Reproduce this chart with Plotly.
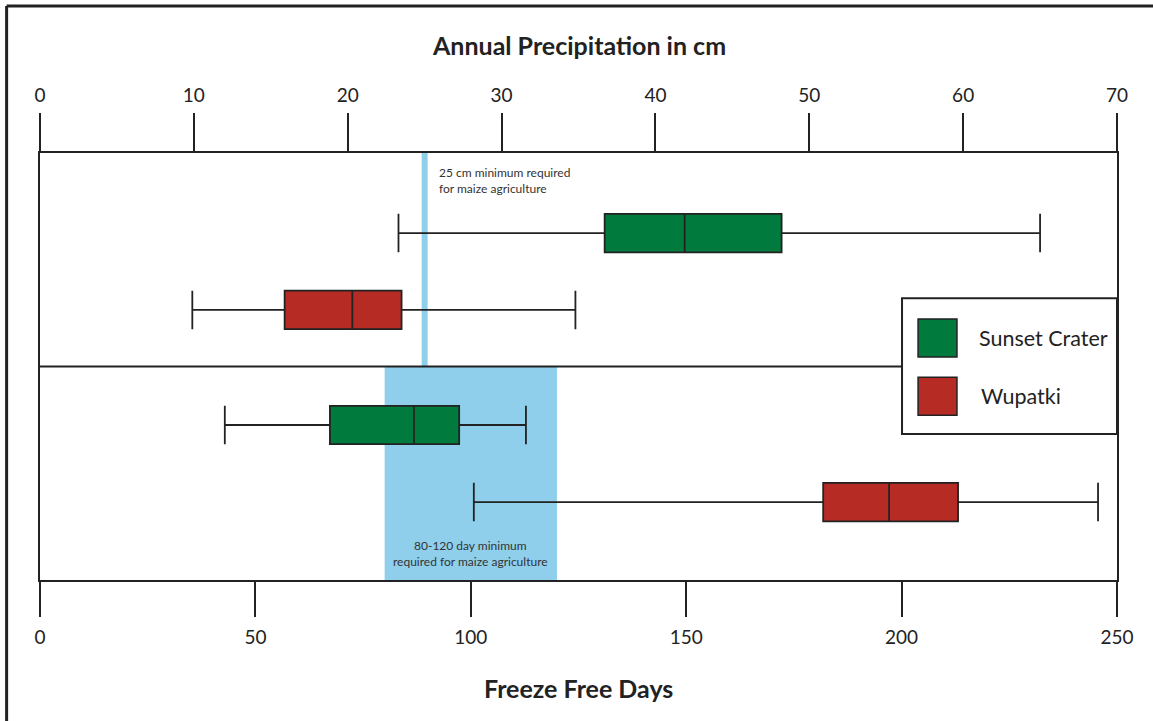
import plotly.graph_objects as go

# Five-number summaries, annual precipitation (cm)
sites = ["Sunset Crater", "Wupatki"]
precip_low = [23.3, 9.9]
precip_q1 = [36.7, 15.9]
precip_median = [41.9, 20.3]
precip_q3 = [48.2, 23.5]
precip_high = [65.0, 34.8]

# Five-number summaries, freeze free days
days_low = [42.9, 100.7]
days_q1 = [67.3, 181.8]
days_median = [86.8, 197.1]
days_q3 = [97.3, 213.1]
days_high = [112.8, 245.6]

# Maize agriculture thresholds
precip_min = 25
days_min_range = [80, 120]

precip_ticks = [0, 10, 20, 30, 40, 50, 60, 70]
days_ticks = [0, 50, 100, 150, 200, 250]

colors = {"Sunset Crater": "#007A3D", "Wupatki": "#B72B25"}
blue = "#8FCFEB"
ink = "#222222"
font = "Lato"

# row positions (precipitation panel on top, days panel below)
precip_rows = [1.625, 1.265]
days_rows = [0.726, 0.365]
box_w = 0.18

fig = go.Figure()

for i, s in enumerate(sites):
    fig.add_trace(go.Box(
        y=[precip_rows[i]], orientation="h",
        q1=[precip_q1[i]], median=[precip_median[i]], q3=[precip_q3[i]],
        lowerfence=[precip_low[i]], upperfence=[precip_high[i]],
        xaxis="x2", yaxis="y", width=box_w, whiskerwidth=1,
        fillcolor=colors[s], line=dict(color=ink, width=1.8),
        name=s, showlegend=False,
    ))
    fig.add_trace(go.Box(
        y=[days_rows[i]], orientation="h",
        q1=[days_q1[i]], median=[days_median[i]], q3=[days_q3[i]],
        lowerfence=[days_low[i]], upperfence=[days_high[i]],
        xaxis="x", yaxis="y", width=box_w, whiskerwidth=1,
        fillcolor=colors[s], line=dict(color=ink, width=1.8),
        name=s, showlegend=False,
    ))

shapes = [
    # 25 cm threshold line
    dict(type="line", xref="x2", yref="y", x0=precip_min, x1=precip_min, y0=1, y1=2,
         line=dict(color=blue, width=6), layer="below"),
    # 80-120 day band
    dict(type="rect", xref="x", yref="y", x0=days_min_range[0], x1=days_min_range[1], y0=0, y1=1,
         fillcolor=blue, line=dict(width=0), layer="below"),
    # divider between panels
    dict(type="line", xref="paper", yref="y", x0=0, x1=0.8004, y0=1, y1=1,
         line=dict(color=ink, width=2)),
    # legend frame
    dict(type="rect", xref="paper", yref="paper", x0=0.8004, x1=1.0, y0=0.342, y1=0.660,
         fillcolor="white", line=dict(color=ink, width=2)),
    dict(type="rect", xref="paper", yref="paper", x0=0.8153, x1=0.8514, y0=0.522, y1=0.611,
         fillcolor=colors["Sunset Crater"], line=dict(color=ink, width=1.5)),
    dict(type="rect", xref="paper", yref="paper", x0=0.8153, x1=0.8514, y0=0.386, y1=0.475,
         fillcolor=colors["Wupatki"], line=dict(color=ink, width=1.5)),
    # outer frame
    dict(type="line", xref="paper", yref="paper", x0=-0.031, x1=1.1, y0=1.344, y1=1.344,
         line=dict(color=ink, width=3)),
    dict(type="line", xref="paper", yref="paper", x0=-0.031, x1=-0.031, y0=1.344, y1=-0.4,
         line=dict(color=ink, width=3)),
]

annotations = [
    dict(text="<b>Annual Precipitation in cm</b>", xref="paper", yref="paper", x=0.5, y=1.253,
         showarrow=False, font=dict(family=font, size=25, color=ink), yanchor="middle"),
    dict(text="<b>Freeze Free Days</b>", xref="paper", yref="paper", x=0.5, y=-0.253,
         showarrow=False, font=dict(family=font, size=25, color=ink), yanchor="middle"),
    dict(text="25 cm minimum required<br>for maize agriculture", xref="x2", yref="y",
         x=25.8, y=1.869, xanchor="left", yanchor="middle", align="left", showarrow=False,
         font=dict(family=font, size=12, color="#333333")),
    dict(text="80-120 day minimum<br>required for maize agriculture", xref="x", yref="y",
         x=sum(days_min_range) / 2, y=0.126, xanchor="center", yanchor="middle", align="center",
         showarrow=False, font=dict(family=font, size=12, color="#333333")),
    dict(text=sites[0], xref="paper", yref="paper", x=0.870, y=0.567, xanchor="left",
         yanchor="middle", showarrow=False, font=dict(family=font, size=21.5, color=ink)),
    dict(text=sites[1], xref="paper", yref="paper", x=0.872, y=0.431, xanchor="left",
         yanchor="middle", showarrow=False, font=dict(family=font, size=21.5, color=ink)),
]

fig.update_layout(
    width=1153, height=721,
    margin=dict(l=40, r=36, t=153, b=141),
    paper_bgcolor="white", plot_bgcolor="white",
    font=dict(family=font, color=ink),
    shapes=shapes, annotations=annotations,
    showlegend=False,
    xaxis=dict(range=[0, 250], tickvals=days_ticks, ticks="outside", ticklen=35,
               tickwidth=1.6, tickcolor=ink, showline=True, linecolor=ink, linewidth=2,
               showgrid=False, zeroline=False, tickfont=dict(size=19, color=ink),
               ticklabelstandoff=4),
    xaxis2=dict(range=[0, 70], tickvals=precip_ticks, ticks="outside", ticklen=38,
                tickwidth=1.6, tickcolor=ink, showline=True, linecolor=ink, linewidth=2,
                showgrid=False, zeroline=False, side="top", overlaying="x", anchor="y",
                tickfont=dict(size=19, color=ink), ticklabelstandoff=3),
    yaxis=dict(range=[0, 2], showticklabels=False, ticks="", showgrid=False, zeroline=False,
               showline=True, linecolor=ink, linewidth=2, mirror=True, fixedrange=True),
)

fig.write_html("out.html")
